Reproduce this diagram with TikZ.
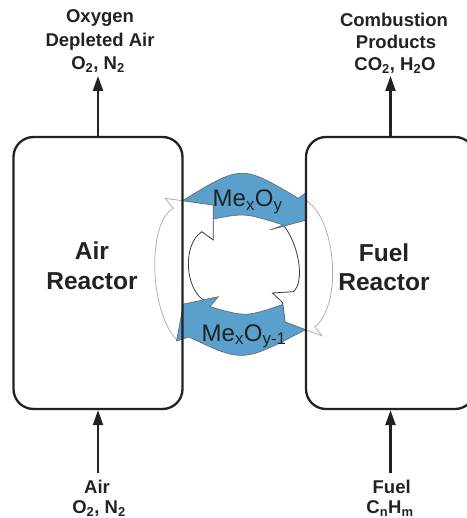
\documentclass[tikz,border=0pt]{standalone}
\usepackage{fontspec}
\setmainfont{Liberation Sans}
\usetikzlibrary{arrows.meta}
\definecolor{mblue}{RGB}{90,160,205}
\definecolor{lgray}{RGB}{175,175,175}
\definecolor{dgray}{RGB}{60,60,60}
\definecolor{ink}{RGB}{34,34,34}
\begin{document}
\begin{tikzpicture}[x=1pt,y=-1pt,
  reactor/.style={draw=ink, line width=2.3pt, rounded corners=20pt, minimum width=169pt, minimum height=272pt, inner sep=0pt},
  flow/.style={draw=ink, line width=2.3pt, -{Triangle[length=15pt,width=10pt]}},
  lbl/.style={font=\bfseries\fontsize{18.5}{22}\selectfont, text=ink, inner sep=0pt, anchor=base},
  big/.style={font=\bfseries\fontsize{24.5}{30}\selectfont, text=ink, inner sep=0pt, anchor=base},
  bluearrow/.style={fill=mblue, draw=black!60, line width=0.6pt},
  outerline/.style={draw=lgray, line width=0.8pt},
  innerline/.style={draw=dgray, line width=0.8pt},
  metal/.style={font=\fontsize{24}{24}\selectfont, text=ink, inner sep=0pt, anchor=base west}]
\useasboundingbox (0,0) rectangle (466,518);

% white (outlined) arrows of the cycle
\draw[outerline] (177,340) .. controls (149,312) and (147,222) .. (173.3,208.3) -- (165,198.3) -- (213.3,205);
\draw[innerline] (205,301) .. controls (185,290) and (182,245) .. (201.7,231.7) -- (213.3,240) -- (213.3,205);
\draw[outerline] (307,201) .. controls (337,222) and (342,305) .. (315,326.7) -- (321.7,335.7) -- (285,322);
\draw[innerline] (284,226) .. controls (299,245) and (305,282) .. (293.3,291.7) -- (272.5,293) -- (282.5,302.5) -- (285,322);

% blue arrows
\filldraw[bluearrow] (182.5,200.7) .. controls (241.6,164.5) .. (298.3,198.3) -- (305.5,193) -- (306.5,220) -- (270,230) -- (283.3,225) .. controls (245,213) .. (213.3,219) -- (213.3,205) -- cycle;
\filldraw[bluearrow] (305.5,329.7) -- (285,322) -- (282.8,304.5) .. controls (246,317) .. (210,306.7) -- (218.3,296.7) -- (183.5,304) -- (176.5,341) -- (189,337) .. controls (242.75,362.65) .. (305.5,329.7) -- cycle;

\node[metal] (mox) at (212.5,206.5) {Me\textsubscript{x}O\textsubscript{y}};
\node[metal] (mred) at (201.5,341) {Me\textsubscript{x}O\textsubscript{y-1}};

% reactors
\node[reactor] (air) at (98,273) {};
\node[reactor] (fuel) at (390.5,273) {};

\node[big] (airt1) at (92,259) {Air};
\node[big] (airt2) at (92,289) {Reactor};
\node[big] (fuelt1) at (384,261) {Fuel};
\node[big] (fuelt2) at (384,290) {Reactor};

% top outputs
\node[lbl] (oda1) at (100,23) {Oxygen};
\node[lbl] (oda2) at (100,46.5) {Depleted Air};
\node[lbl] (oda3) at (98,69.5) {O\textsubscript{2}, N\textsubscript{2}};
\node[lbl] (cp1) at (394,26.5) {Combustion};
\node[lbl] (cp2) at (396,48.8) {Products};
\node[lbl] (cp3) at (395,70.5) {CO\textsubscript{2}, H\textsubscript{2}O};

% bottom inputs
\node[lbl] (ain1) at (97,493.3) {Air};
\node[lbl] (ain2) at (99,513.5) {O\textsubscript{2}, N\textsubscript{2}};
\node[lbl] (fin1) at (391.7,493.3) {Fuel};
\node[lbl] (fin2) at (390,513.5) {C\textsubscript{n}H\textsubscript{m}};

% flow arrows
\coordinate (odaEnd) at (98,76);
\coordinate (cpEnd) at (390.5,76);
\coordinate (airIn) at (98,473);
\coordinate (fuelIn) at (390.5,473);
\draw[flow] (air.north) -- (odaEnd);
\draw[flow] (fuel.north) -- (cpEnd);
\draw[flow] (airIn) -- (air.south);
\draw[flow] (fuelIn) -- (fuel.south);
\end{tikzpicture}
\end{document}
